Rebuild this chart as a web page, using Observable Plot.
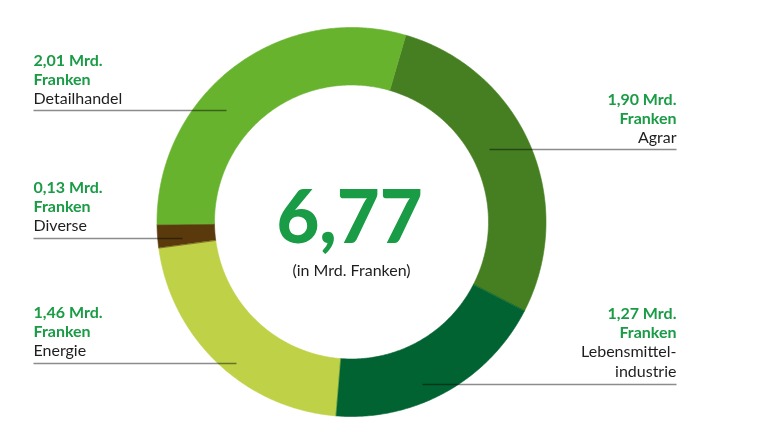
<!DOCTYPE html>
<html><head><meta charset="utf-8">
<script src="https://cdn.jsdelivr.net/npm/d3@7"></script>
<script src="https://cdn.jsdelivr.net/npm/@observablehq/plot@0.6"></script>
<style>body{margin:0;background:#fff}#chart svg{display:block}</style>
</head><body><div id="chart"></div>
<script>
// ---- data ----
const categories = ["Agrar", "Lebensmittelindustrie", "Energie", "Diverse", "Detailhandel"];
const categoryLabels = ["Agrar", "Lebensmittel-\nindustrie", "Energie", "Diverse", "Detailhandel"];
const values = [1.90, 1.27, 1.46, 0.13, 2.01];
const unitLine = "Mrd.";
const unitLine2 = "Franken";
const totalLabel = "6,77";
const totalUnit = "(in Mrd. Franken)";
const colors = ["#467f22", "#006331", "#bfd146", "#5a3a0c", "#67b32e"];

// ---- layout ----
const W = 769, H = 430;
const cx = 351, cy = 221.5, R = 194.5, r = 137;
const startDeg = 16.2;
const lineGap = 19.4;
const leftX = 33, rightX = 676;
const layout = {
  "Agrar":                {side: "right", top: 104, ly: 149, lx: 489},
  "Lebensmittelindustrie":{side: "right", top: 318, ly: 384, lx: 422},
  "Energie":              {side: "left",  top: 317, ly: 363, lx: 236},
  "Diverse":              {side: "left",  top: 192, ly: 238, lx: 182},
  "Detailhandel":         {side: "left",  top: 65,  ly: 110, lx: 226}
};
const green = "#1a9b45";
const fs = 16;

// ---- donut geometry from d3.pie ----
const a0 = startDeg * Math.PI / 180;
const arcs = d3.pie().sort(null).startAngle(a0).endAngle(a0 + 2 * Math.PI)(values);
const ring = [];
arcs.forEach((a, i) => {
  const n = Math.max(4, Math.ceil((a.endAngle - a.startAngle) / 0.01));
  const pts = [];
  for (let k = 0; k <= n; k++) {
    const t = a.startAngle + (a.endAngle - a.startAngle) * k / n;
    pts.push({x: cx + R * Math.sin(t), y: cy - R * Math.cos(t)});
  }
  for (let k = n; k >= 0; k--) {
    const t = a.startAngle + (a.endAngle - a.startAngle) * k / n;
    pts.push({x: cx + r * Math.sin(t), y: cy - r * Math.cos(t)});
  }
  pts.forEach(p => ring.push({cat: categories[i], ...p}));
});

// ---- labels ----
const fmt = v => d3.format(".2f")(v).replace(".", ",");
const textRows = [];
const leaders = [];
categories.forEach((c, i) => {
  const L = layout[c];
  const x = L.side === "left" ? leftX : rightX;
  const anchor = L.side === "left" ? "start" : "end";
  const lines = [
    {t: fmt(values[i]) + " " + unitLine, bold: true},
    {t: unitLine2, bold: true},
    ...categoryLabels[i].split("\n").map(t => ({t, bold: false}))
  ];
  lines.forEach((l, k) => textRows.push({text: l.t, bold: l.bold, x, y: L.top + k * lineGap - 0.32 * fs, anchor}));
  leaders.push({x1: L.side === "left" ? leftX : L.lx, x2: L.side === "left" ? L.lx : rightX, y: L.ly});
});

const plot = Plot.plot({
  width: W, height: H,
  margin: 0,
  x: {domain: [0, W], range: [0, W], axis: null},
  y: {domain: [0, H], range: [0, H], axis: null},
  color: {domain: categories, range: colors},
  style: {fontFamily: "Lato, 'Open Sans', sans-serif", background: "#fff"},
  marks: [
    Plot.line(ring, {x: "x", y: "y", z: "cat", fill: "cat", stroke: "cat", strokeWidth: 0.6, curve: "linear-closed"}),
    Plot.link(leaders, {x1: "x1", x2: "x2", y1: "y", y2: "y", stroke: "#8c8c8c", strokeWidth: 1.3, mixBlendMode: "multiply"}),
    Plot.text(textRows.filter(d => d.bold && d.anchor === "start"), {x: "x", y: "y", text: "text", textAnchor: "start", fill: green, fontWeight: "bold", fontSize: fs}),
    Plot.text(textRows.filter(d => d.bold && d.anchor === "end"), {x: "x", y: "y", text: "text", textAnchor: "end", fill: green, fontWeight: "bold", fontSize: fs}),
    Plot.text(textRows.filter(d => !d.bold && d.anchor === "start"), {x: "x", y: "y", text: "text", textAnchor: "start", fill: "#1e1e1e", fontSize: fs}),
    Plot.text(textRows.filter(d => !d.bold && d.anchor === "end"), {x: "x", y: "y", text: "text", textAnchor: "end", fill: "#1e1e1e", fontSize: fs}),
    Plot.text([totalLabel], {x: () => cx - 2, y: () => 242 - 0.32 * 74, text: d => d, fill: green, fontWeight: 900, fontSize: 74}),
    Plot.text([totalUnit], {x: () => cx, y: () => 275 - 0.32 * 16, text: d => d, fill: "#1e1e1e", fontSize: 16})
  ]
});
document.getElementById("chart").append(plot);
</script>
</body></html>
